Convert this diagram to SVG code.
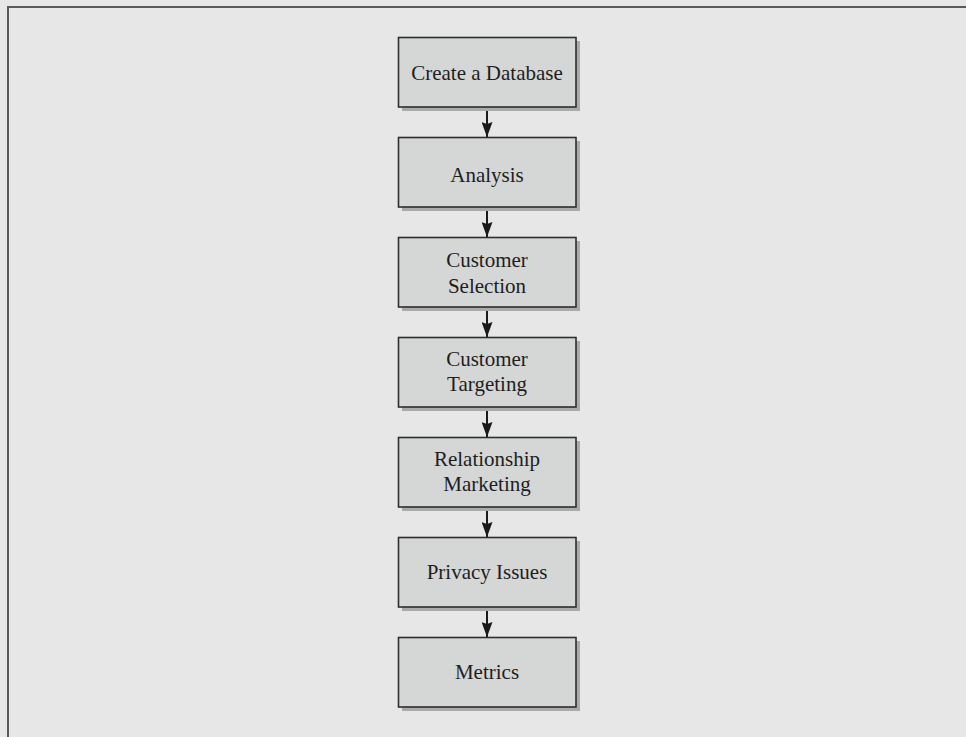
<svg xmlns="http://www.w3.org/2000/svg" width="966" height="737" viewBox="0 0 966 737">
<style>
.bg{fill:#e6e7e6}
.frame{fill:none;stroke:#5a5a5a;stroke-width:2}
.shadow{fill:#a9aaa9}
.box{fill:#d5d6d6;stroke:#2e2e2e;stroke-width:1.6}
.lbl{font-family:"Liberation Serif","Times New Roman",serif;font-size:21px;fill:#1e1e1e;text-anchor:middle}
.conn{stroke:#1a1a1a;stroke-width:2;fill:none}
</style>
<defs>
<marker id="ah" markerWidth="15" markerHeight="11" refX="15" refY="5.5" orient="auto" markerUnits="userSpaceOnUse" viewBox="0 0 15 11">
<path d="M0,0 L15,5.5 L0,11 L2,5.5 Z" fill="#1a1a1a"/>
</marker>
</defs>
<rect class="bg" x="0" y="0" width="966" height="737"/>
<path class="frame" d="M8,737 V7 H966"/>
<g id="connectors">
<line class="conn" x1="487" y1="107" x2="487" y2="137" marker-end="url(#ah)"/>
<line class="conn" x1="487" y1="207" x2="487" y2="237" marker-end="url(#ah)"/>
<line class="conn" x1="487" y1="307" x2="487" y2="337" marker-end="url(#ah)"/>
<line class="conn" x1="487" y1="407" x2="487" y2="437" marker-end="url(#ah)"/>
<line class="conn" x1="487" y1="507" x2="487" y2="537" marker-end="url(#ah)"/>
<line class="conn" x1="487" y1="607" x2="487" y2="637" marker-end="url(#ah)"/>
</g>
<g id="n1"><rect class="shadow" x="402" y="41" width="178" height="70"/><rect class="box" x="398.5" y="37.5" width="177.5" height="69.5"/><text class="lbl" x="487" y="80">Create a Database</text></g>
<g id="n2"><rect class="shadow" x="402" y="141" width="178" height="70"/><rect class="box" x="398.5" y="137.5" width="177.5" height="69.5"/><text class="lbl" x="487" y="182">Analysis</text></g>
<g id="n3"><rect class="shadow" x="402" y="241" width="178" height="70"/><rect class="box" x="398.5" y="237.5" width="177.5" height="69.5"/><text class="lbl" x="487" y="267">Customer</text><text class="lbl" x="487" y="293">Selection</text></g>
<g id="n4"><rect class="shadow" x="402" y="341" width="178" height="70"/><rect class="box" x="398.5" y="337.5" width="177.5" height="69.5"/><text class="lbl" x="487" y="366">Customer</text><text class="lbl" x="487" y="391">Targeting</text></g>
<g id="n5"><rect class="shadow" x="402" y="441" width="178" height="70"/><rect class="box" x="398.5" y="437.5" width="177.5" height="69.5"/><text class="lbl" x="487" y="466">Relationship</text><text class="lbl" x="487" y="491">Marketing</text></g>
<g id="n6"><rect class="shadow" x="402" y="541" width="178" height="70"/><rect class="box" x="398.5" y="537.5" width="177.5" height="69.5"/><text class="lbl" x="487" y="579">Privacy Issues</text></g>
<g id="n7"><rect class="shadow" x="402" y="641" width="178" height="70"/><rect class="box" x="398.5" y="637.5" width="177.5" height="69.5"/><text class="lbl" x="487" y="679">Metrics</text></g>
</svg>
